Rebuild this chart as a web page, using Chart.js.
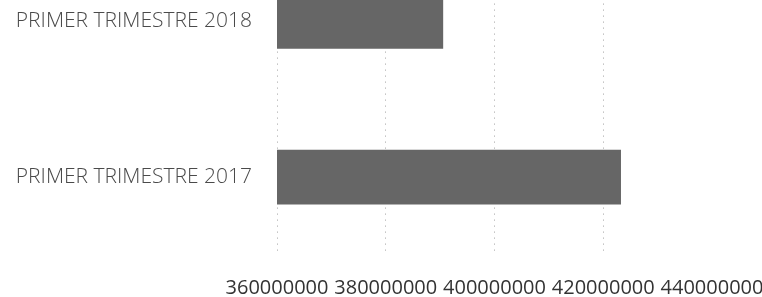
<!DOCTYPE html>
<html>
<head>
<meta charset="utf-8">
<script src="https://cdn.jsdelivr.net/npm/chart.js@4/dist/chart.umd.min.js"></script>
<style>
  html, body { margin: 0; padding: 0; background: #fff; overflow: hidden; width: 762px; height: 297px; }
  #wrap { position: absolute; left: 0; top: -94px; width: 800px; height: 391px; }
</style>
</head>
<body>
<div id="wrap"><canvas id="result"></canvas></div>
<script>
"use strict";
// data
const categories = ["PRIMER TRIMESTRE 2018", "PRIMER TRIMESTRE 2017"];
const values = [390500000, 423200000];
const xMin = 360000000;
const xMax = 440000000;
const xStep = 20000000;

new Chart("result", {
  type: "bar",
  data: {
    labels: categories,
    datasets: [
      {
        data: values,
        backgroundColor: "#666666",
        barThickness: 54,
      },
    ],
  },
  options: {
    indexAxis: "y",
    responsive: true,
    maintainAspectRatio: false,
    animation: false,
    layout: { padding: { top: 0, right: 88, left: 0, bottom: 0 } },
    plugins: { legend: { display: false }, tooltip: { enabled: false } },
    scales: {
      x: {
        min: xMin,
        max: xMax,
        ticks: {
          stepSize: xStep,
          padding: 21,
          maxRotation: 0,
          minRotation: 0,
          autoSkip: false,
          color: "#333",
          font: { family: "Open Sans", size: 20 },
          callback: (v) => String(v),
        },
        grid: {
          // no line shows at the last tick in the scan
          color: (ctx) => (ctx.tick && ctx.tick.value === xMax ? "rgba(0,0,0,0)" : "#a0a0a0"),
          drawTicks: false,
        },
        // dotted grid lines
        border: { display: false, dash: [1, 5] },
        afterFit: (s) => { s.height = 42; },
      },
      y: {
        ticks: {
          padding: 25,
          color: "#4a4a4a",
          font: { family: "Open Sans", size: 21, weight: "300" },
        },
        grid: { display: false, drawTicks: false },
        border: { display: false },
        afterFit: (s) => { s.width = 277; },
      },
    },
  },
});
</script>
</body>
</html>
